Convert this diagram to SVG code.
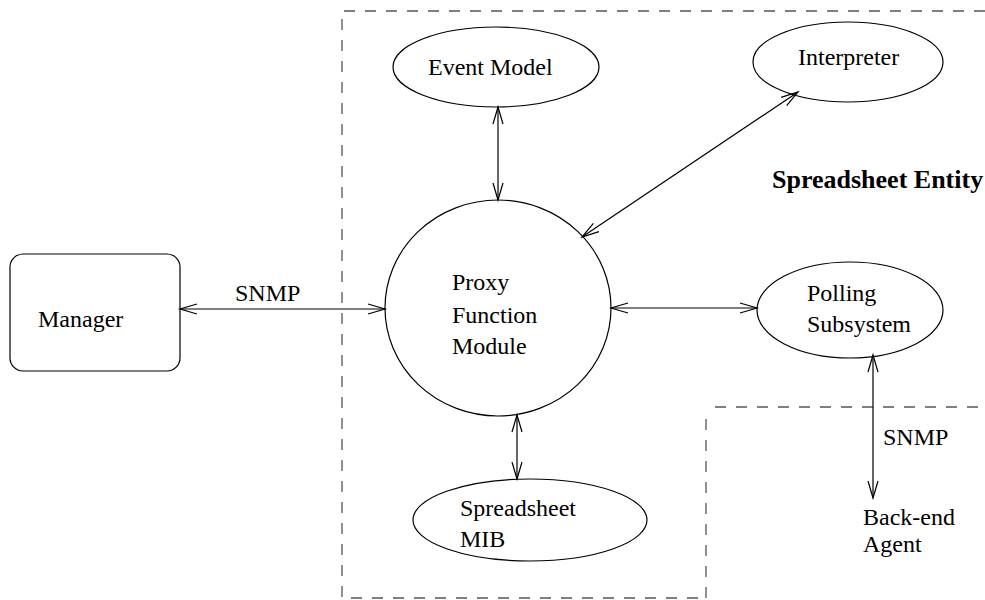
<svg xmlns="http://www.w3.org/2000/svg" width="985" height="600" viewBox="0 0 985 600">
<style>
.t{font-family:"Liberation Serif","Times New Roman",serif;font-size:24px;fill:#000}
.b{font-weight:bold;font-size:26px}
.s{fill:none;stroke:#000;stroke-width:1.2}
.d{fill:none;stroke:#555;stroke-width:1.3;stroke-dasharray:11 10}
.c{fill:none;stroke:#000;stroke-width:1.2;marker-start:url(#ah);marker-end:url(#ah)}
</style>
<defs>
<marker id="ah" markerUnits="userSpaceOnUse" markerWidth="20" markerHeight="14" viewBox="-18 -7 20 14" refX="0" refY="0" orient="auto-start-reverse" overflow="visible">
<path d="M-17,-5 L0,0 L-17,5" fill="none" stroke="#000" stroke-width="1.2"/>
</marker>
</defs>
<g id="boundary">
<path class="d" d="M985,11 L342,11 L342,598 L706,598"/>
<path class="d" d="M706,598 L706,409"/>
<path class="d" d="M715,407 L985,407"/>
</g>
<g id="connectors">
<line class="c" x1="180" y1="309" x2="385" y2="309"/>
<line class="c" x1="498" y1="107" x2="498" y2="200"/>
<line class="c" x1="798" y1="92" x2="582" y2="237"/>
<line class="c" x1="611" y1="308" x2="757" y2="308"/>
<line class="c" x1="517" y1="415" x2="517" y2="479"/>
<line class="c" x1="873" y1="355" x2="873" y2="498"/>
<text class="t" x="235" y="301">SNMP</text>
<text class="t" x="883" y="445">SNMP</text>
</g>
<g id="manager">
<rect class="s" x="10" y="254" width="170" height="117" rx="13"/>
<text class="t" x="38" y="327">Manager</text>
</g>
<g id="proxy">
<ellipse class="s" cx="498" cy="308" rx="113" ry="108"/>
<text class="t" x="452" y="290">Proxy</text>
<text class="t" x="452" y="323">Function</text>
<text class="t" x="452" y="354">Module</text>
</g>
<g id="event-model">
<ellipse class="s" cx="496" cy="67" rx="103" ry="40"/>
<text class="t" x="428" y="75">Event Model</text>
</g>
<g id="interpreter">
<ellipse class="s" cx="848" cy="62" rx="95" ry="40"/>
<text class="t" x="798" y="65">Interpreter</text>
</g>
<g id="entity-label">
<text class="t b" x="772" y="188">Spreadsheet Entity</text>
</g>
<g id="polling">
<ellipse class="s" cx="850" cy="310" rx="93" ry="48"/>
<text class="t" x="807" y="301">Polling</text>
<text class="t" x="807" y="332">Subsystem</text>
</g>
<g id="mib">
<ellipse class="s" cx="530" cy="520" rx="117" ry="41"/>
<text class="t" x="460" y="516">Spreadsheet</text>
<text class="t" x="460" y="547">MIB</text>
</g>
<g id="backend">
<text class="t" x="863" y="525">Back-end</text>
<text class="t" x="863" y="552">Agent</text>
</g>
</svg>
